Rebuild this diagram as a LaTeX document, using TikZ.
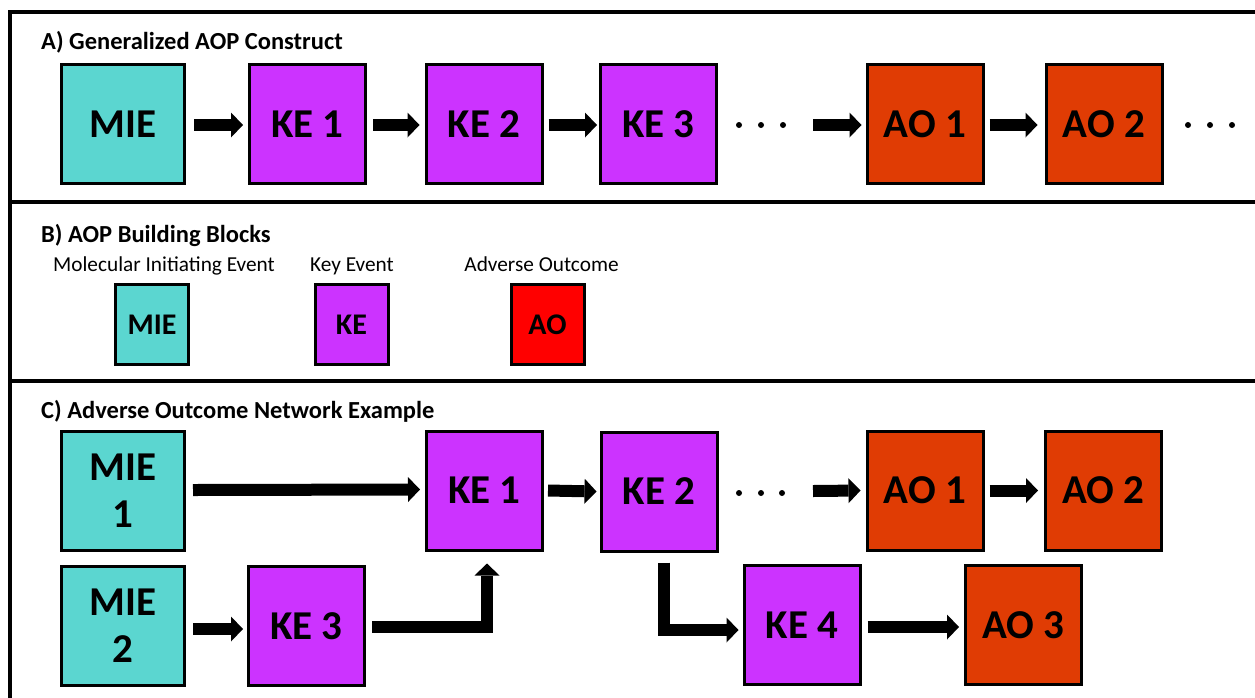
\documentclass[tikz,border=0pt]{standalone}
\usepackage{fontspec}
\setmainfont{Carlito}
\usetikzlibrary{arrows.meta}
\definecolor{miecol}{HTML}{5BD6D0}
\definecolor{kecol}{HTML}{CC33FF}
\definecolor{aocol}{HTML}{E03C04}
\definecolor{aored}{HTML}{FF0000}
\begin{document}
\begin{tikzpicture}[x=1pt,y=-1pt,
  box/.style={draw=black, line width=3pt, inner sep=0pt, minimum width=116pt, minimum height=119pt,
    font=\fontsize{41}{47}\selectfont\bfseries, align=center},
  miebox/.style={box, fill=miecol, minimum width=123pt},
  kebox/.style={box, fill=kecol},
  aobox/.style={box, fill=aocol},
  smallbox/.style={draw=black, line width=3pt, inner sep=0pt, minimum width=73pt, minimum height=80pt,
    font=\fontsize{30}{35}\selectfont\bfseries},
  paneltitle/.style={anchor=base west, font=\fontsize{24.5}{29}\selectfont\bfseries, inner sep=0pt},
  subtitle/.style={anchor=base, font=\fontsize{21.3}{25}\selectfont, inner sep=0pt},
  arr/.style={line width=12pt, -{Triangle[length=12pt,width=25pt,line width=0pt]}},
  elbow/.style={arr, line join=miter},
  framestyle/.style={line width=4pt, line join=miter}
]
\useasboundingbox (0,0) rectangle (1255,697);

% frame and dividers
\draw[framestyle] (1262,12) -- (9.5,12) -- (9.5,705);
\draw[framestyle] (9.5,202) -- (1262,202);
\draw[framestyle] (9.5,380.5) -- (1262,380.5);

% ---------- Panel A ----------
\node[paneltitle] (tA) at (41,49.5) {A) Generalized AOP Construct};
\node[miebox] (mieA) at (123,124) {MIE};
\node[kebox] (ke1A) at (307.5,124) {KE 1};
\node[kebox] (ke2A) at (484,124) {KE 2};
\node[kebox] (ke3A) at (658.5,124) {KE 3};
\node[aobox] (ao1A) at (925,124) {AO 1};
\node[aobox] (ao2A) at (1104,124) {AO 2};
\coordinate (dA) at (813,125);

\draw[arr] ([xshift=8pt,yshift=-1pt]mieA.east) -- ([xshift=-5pt,yshift=-1pt]ke1A.west);
\draw[arr] ([xshift=6pt,yshift=-1pt]ke1A.east) -- ([xshift=-5pt,yshift=-1pt]ke2A.west);
\draw[arr] ([xshift=5pt,yshift=-1pt]ke2A.east) -- ([xshift=-2pt,yshift=-1pt]ke3A.west);
\draw[arr] (dA) -- ([xshift=-4pt,yshift=-1pt]ao1A.west);
\draw[arr] ([xshift=5pt,yshift=-1pt]ao1A.east) -- ([xshift=-7pt,yshift=-1pt]ao2A.west);

\foreach \xx in {739,761,783,1188,1210,1232} \fill (\xx,125) circle (3pt);

% ---------- Panel B ----------
\node[paneltitle] (tB) at (41,242) {B) AOP Building Blocks};
\node[subtitle] (sMIE) at (164,271) {Molecular Initiating Event};
\node[subtitle] (sKE) at (352,271) {Key Event};
\node[subtitle] (sAO) at (541.5,271) {Adverse Outcome};
\node[smallbox, fill=miecol] (bMIE) at (152,324.5) {MIE};
\node[smallbox, fill=kecol] (bKE) at (351.5,324.5) {KE};
\node[smallbox, fill=aored] (bAO) at (547.5,324.5) {AO};

% ---------- Panel C ----------
\node[paneltitle] (tC) at (41,418.5) {C) Adverse Outcome Network Example};
\node[miebox] (mie1C) at (123,491) {MIE\\1};
\node[miebox] (mie2C) at (123,625.5) {MIE\\2};
\node[kebox] (ke1C) at (484.5,490.5) {KE 1};
\node[kebox] (ke2C) at (659,491.5) {KE 2};
\node[aobox] (ao1C) at (925,490.5) {AO 1};
\node[aobox] (ao2C) at (1103.5,490.5) {AO 2};
\node[kebox] (ke3C) at (306.5,626) {KE 3};
\node[kebox] (ke4C) at (802,625) {KE 4};
\node[aobox] (ao3C) at (1023.5,625) {AO 3};
\coordinate (dC) at (813,491);

\draw[arr] ([xshift=7pt,yshift=1pt]mie1C.east) -- ([xshift=-5pt,yshift=1pt]ke1C.west);
\draw[arr] ([xshift=4pt]ke1C.east) -- ([xshift=-3pt]ke2C.west);
\draw[arr] (dC) -- ([xshift=-5pt]ao1C.west);
\draw[arr] ([xshift=5pt]ao1C.east) -- ([xshift=-6pt]ao2C.west);
\draw[arr] ([xshift=7pt,yshift=-3.5pt]mie2C.east) -- ([xshift=-4pt,yshift=-3pt]ke3C.west);
\draw[arr] ([xshift=6pt,yshift=-2pt]ke4C.east) -- ([xshift=-5pt,yshift=-2pt]ao3C.west);
\draw[elbow] ([xshift=6pt,yshift=-1pt]ke3C.east) -| ([xshift=2.5pt,yshift=-12pt]ke1C.south);
\draw[elbow] ([xshift=4.5pt,yshift=-10pt]ke2C.south) |- ([xshift=-4pt,yshift=-5pt]ke4C.west);

\foreach \xx in {739,761,782} \fill (\xx,493) circle (3pt);
\end{tikzpicture}
\end{document}
